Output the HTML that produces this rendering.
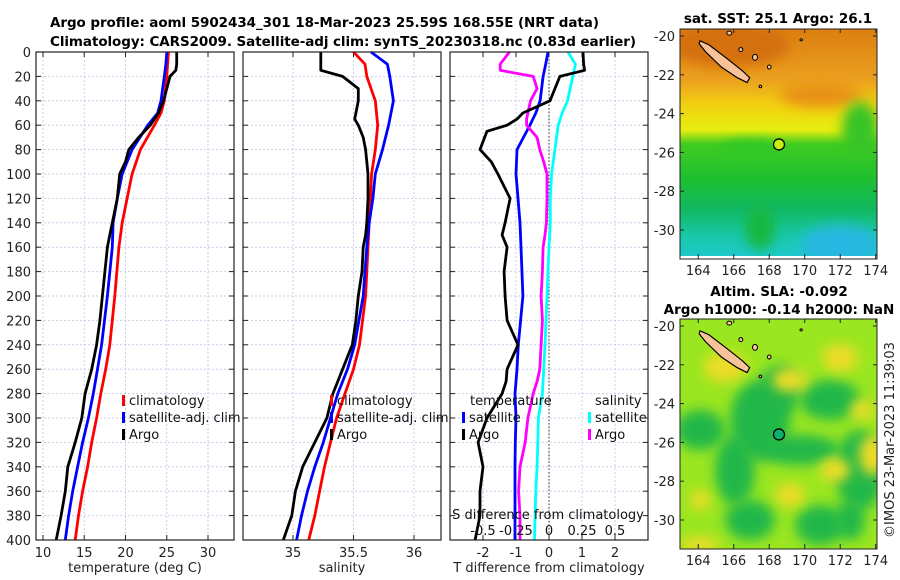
<!DOCTYPE html>
<html><head><meta charset="utf-8"><style>
body{margin:0;background:#fff}
svg{display:block;font-family:"DejaVu Sans","Liberation Sans",sans-serif}
</style></head><body>
<svg id="fig" width="900" height="580" viewBox="0 0 900 580" xmlns="http://www.w3.org/2000/svg">
<defs>
<filter id="blur6" x="-50%" y="-50%" width="200%" height="200%"><feGaussianBlur stdDeviation="6"/></filter>
<clipPath id="clipTop"><rect x="680" y="29" width="197" height="230"/></clipPath>
<clipPath id="clipBot"><rect x="680" y="319" width="197" height="230"/></clipPath>
<linearGradient id="sstGrad" x1="0" y1="0" x2="0" y2="1">
<stop offset="0" stop-color="#dc7e10"/><stop offset="0.22" stop-color="#eba020"/><stop offset="0.33" stop-color="#f2d010"/>
<stop offset="0.44" stop-color="#e6ee10"/><stop offset="0.5" stop-color="#40cc20"/><stop offset="0.65" stop-color="#1ec030"/>
<stop offset="0.78" stop-color="#12b860"/><stop offset="0.9" stop-color="#18c8a8"/><stop offset="1" stop-color="#20c8d0"/>
</linearGradient>
</defs>
<g id="titles" font-weight="bold" font-size="13.5" fill="#000">
<text x="50" y="27" textLength="549">Argo profile: aoml 5902434_301 18-Mar-2023 25.59S 168.55E (NRT data)</text>
<text x="50" y="46" textLength="586">Climatology: CARS2009. Satellite-adj clim: synTS_20230318.nc (0.83d earlier)</text>
</g>
<g id="panels"></g>
<g id="maps"></g>
</svg>
<script>
// ---------- DATA ----------
const depthTicks = [0,20,40,60,80,100,120,140,160,180,200,220,240,260,280,300,320,340,360,380,400];
const climDepths = [0,10,20,40,50,60,80,100,120,140,160,200,240,260,280,300,320,340,360,380,400];
const tempClim   = [25.2,25.1,25.0,24.7,24.3,23.5,21.8,20.8,20.2,19.6,19.2,18.7,18.1,17.6,17.0,16.5,15.9,15.4,14.8,14.3,13.9];
const tempSat    = [25.0,24.9,24.7,24.3,23.9,22.7,20.8,19.6,19.0,18.5,18.4,17.8,17.1,16.6,16.1,15.5,14.8,14.2,13.6,13.1,12.7];
const argoDepths = [0,10,15,20,30,40,50,55,60,65,70,80,90,100,120,140,150,160,180,200,220,240,260,270,280,300,320,340,360,380,400];
const tempArgo   = [26.2,26.2,26.1,25.4,25.0,24.6,24.0,23.5,23.0,22.3,21.6,20.4,20.0,19.3,19.0,18.4,18.1,17.8,17.5,17.2,16.9,16.5,15.9,15.5,15.1,14.7,13.9,13.0,12.7,12.2,11.6];
const salClim    = [35.50,35.595,35.61,35.68,35.69,35.70,35.68,35.65,35.64,35.63,35.62,35.60,35.55,35.50,35.43,35.36,35.31,35.26,35.22,35.18,35.13];
const salSat     = [35.645,35.78,35.80,35.83,35.81,35.79,35.74,35.68,35.66,35.63,35.61,35.58,35.51,35.45,35.37,35.31,35.25,35.18,35.12,35.07,35.03];
const salArgo    = [35.23,35.23,35.23,35.41,35.54,35.54,35.52,35.51,35.54,35.56,35.58,35.60,35.61,35.62,35.62,35.61,35.60,35.58,35.57,35.54,35.52,35.49,35.41,35.37,35.33,35.28,35.18,35.08,35.02,34.99,34.92];
const dTSat      = [-0.03,-0.1,-0.18,-0.27,-0.4,-0.58,-0.97,-1.0,-0.94,-0.88,-0.85,-0.79,-0.93,-0.97,-1.03,-1.0,-1.02,-1.03,-1.03,-1.03,-1.03];
const dTArgo     = [1.03,1.05,1.08,0.33,0.18,0.03,-0.79,-0.97,-1.27,-1.88,-1.95,-2.09,-1.75,-1.55,-1.18,-1.33,-1.42,-1.27,-1.36,-1.33,-1.27,-0.94,-1.27,-1.3,-1.42,-1.88,-2.15,-2.0,-2.09,-2.09,-2.24];
const dSSat      = [0.144,0.2,0.18,0.14,0.1,0.07,0.045,0.02,0.01,0.01,0.0,-0.015,-0.03,-0.04,-0.05,-0.08,-0.085,-0.09,-0.1,-0.105,-0.11];
const dSArgo     = [-0.30,-0.37,-0.37,-0.12,-0.09,-0.14,-0.16,-0.17,-0.17,-0.13,-0.09,-0.07,-0.04,-0.015,-0.015,-0.02,-0.03,-0.045,-0.05,-0.06,-0.05,-0.06,-0.07,-0.09,-0.12,-0.16,-0.18,-0.22,-0.23,-0.22,-0.22];
const tTicks = [10,15,20,25,30];
const sTicks = [35,35.5,36];
const dTicks = [-2,-1,0,1,2];
const sDiffTicks = [-0.5,-0.25,0,0.25,0.5];
const sDiffTickLabels = ["-0.5","-0.25","0","0.25","0.5"];
const lonTicks = [164,166,168,170,172,174];
const latTicks = [-20,-22,-24,-26,-28,-30];
const argoLon = 168.55, argoLat = -25.59;

// ---------- helpers ----------
const NS = "http://www.w3.org/2000/svg";
function mk(tag, attrs, parent){const e=document.createElementNS(NS,tag);for(const k in attrs)e.setAttribute(k,attrs[k]);if(parent)parent.appendChild(e);return e;}
const TOP=52, BOT=540;
const yD = d => TOP + d*(BOT-TOP)/400;
function lin(d0,d1,r0,r1){return v=>r0+(v-d0)*(r1-r0)/(d1-d0);}
const panelsG = document.getElementById('panels');

function panel(x0,x1,scale,ticks,labels,xTitle,name,showY){
  const g = mk('g',{},panelsG);
  
  
  ticks.forEach(t=>{const x=scale(t); const l=mk('line',{x1:x,x2:x,y1:TOP,y2:BOT,stroke:'#c9cde8','stroke-width':1,'stroke-dasharray':'2,2'},g);  });
  depthTicks.forEach(d=>{const y=yD(d); const l=mk('line',{x1:x0,x2:x1,y1:y,y2:y,stroke:'#c9cde8','stroke-width':1,'stroke-dasharray':'2,2'},g);  
    mk('line',{x1:x0,x2:x0+5,y1:y,y2:y,stroke:'#222'},g); mk('line',{x1:x1-5,x2:x1,y1:y,y2:y,stroke:'#222'},g);
    if(showY){const t=mk('text',{x:x0-5,y:y+5,'text-anchor':'end','font-size':13,fill:'#222'},g); t.textContent=d;  }
  });
  ticks.forEach((t,i)=>{const x=scale(t); mk('line',{x1:x,x2:x,y1:BOT,y2:BOT-5,stroke:'#222'},g); mk('line',{x1:x,x2:x,y1:TOP,y2:TOP+5,stroke:'#222'},g);
    const tx=mk('text',{x:x,y:BOT+17,'text-anchor':'middle','font-size':13,fill:'#222'},g); tx.textContent=labels[i];  });
  const tt=mk('text',{x:(x0+x1)/2,y:572,'text-anchor':'middle','font-size':13,fill:'#222'},g); tt.textContent=xTitle;
   
  return g;
}
function frame(g,x0,x1){const r=mk('rect',{x:x0,y:TOP,width:x1-x0,height:BOT-TOP,fill:'none',stroke:'#222','stroke-width':1.2},g);  }
function series(g,depths,vals,scale,color,name){
  const pts = vals.map((v,i)=>scale(v).toFixed(1)+','+yD(depths[i]).toFixed(1)).join(' ');
  const p=mk('polyline',{points:pts,fill:'none',stroke:color,'stroke-width':2.8,'stroke-linejoin':'round'},g);
  
  
}
function legendEntry(g,x,y,color,label){
  const e=mk('g',{},g);
  
  
  mk('rect',{x:x,y:y-10,width:3,height:11,fill:color},e);
  const t=mk('text',{x:x+7,y:y,'font-size':13,fill:'#111'},e); t.textContent=label;
}

const xT = lin(10,30,43,208);
const g1 = panel(36,234,xT,tTicks,tTicks.map(String),'temperature (deg C)','temperature-panel',true);
series(g1,climDepths,tempClim,xT,'#ff0000','temp-climatology-line');
series(g1,climDepths,tempSat,xT,'#0000ff','temp-satellite-line');
series(g1,argoDepths,tempArgo,xT,'#000000','temp-argo-line');
frame(g1,36,234);
legendEntry(g1,122,405,'#ff0000','climatology');
legendEntry(g1,122,422,'#0000ff','satellite-adj. clim');
legendEntry(g1,122,439,'#000000','Argo');

const xS = lin(35,36,293,414);
const g2 = panel(243,441,xS,sTicks,['35','35.5','36'],'salinity','salinity-panel',false);
series(g2,climDepths,salClim,xS,'#ff0000','sal-climatology-line');
series(g2,climDepths,salSat,xS,'#0000ff','sal-satellite-line');
series(g2,argoDepths,salArgo,xS,'#000000','sal-argo-line');
frame(g2,243,441);
legendEntry(g2,330,405,'#ff0000','climatology');
legendEntry(g2,330,422,'#0000ff','satellite-adj. clim');
legendEntry(g2,330,439,'#000000','Argo');

const xDT = lin(0,1,549,582);
const xDS = lin(0,0.25,549,582);
const g3 = panel(450,648,xDT,dTicks,dTicks.map(String),'T difference from climatology','difference-panel',false);
mk('line',{x1:xDT(0),x2:xDT(0),y1:TOP,y2:BOT,stroke:'#555','stroke-width':1.2,'stroke-dasharray':'1.5,2'},g3);
series(g3,climDepths,dTSat,xDT,'#0000ff','dT-satellite-line');
series(g3,climDepths,dSSat,xDS,'#00ffff','dS-satellite-line');
series(g3,argoDepths,dSArgo,xDS,'#ff00ff','dS-argo-line');
series(g3,argoDepths,dTArgo,xDT,'#000000','dT-argo-line');
frame(g3,450,648);
{const t=mk('text',{x:470,y:405,'font-size':13,fill:'#111'},g3);t.textContent='temperature';}
{const t=mk('text',{x:595,y:405,'font-size':13,fill:'#111'},g3);t.textContent='salinity';}
legendEntry(g3,462,422,'#0000ff','satellite');
legendEntry(g3,462,439,'#000000','Argo');
legendEntry(g3,588,422,'#00ffff','satellite');
legendEntry(g3,588,439,'#ff00ff','Argo');
{const t=mk('text',{x:548,y:519,'text-anchor':'middle','font-size':13,fill:'#111'},g3);t.textContent='S difference from climatology';}
sDiffTicks.forEach((v,i)=>{const t=mk('text',{x:xDS(v),y:535,'text-anchor':'middle','font-size':13,fill:'#111'},g3);t.textContent=sDiffTickLabels[i];
  
  });

// ---------- maps ----------
const mapsG = document.getElementById('maps');
const mx = lin(163,174,680.5,875.7);
function mapAxes(g,top){
  const my = lin(-20,-30,top+7,top+201);
  lonTicks.forEach(l=>{const x=mx(l);mk('line',{x1:x,x2:x,y1:top+230,y2:top+225,stroke:'#222'},g);mk('line',{x1:x,x2:x,y1:top,y2:top+4,stroke:'#222'},g);
    const t=mk('text',{x:x,y:top+246,'text-anchor':'middle','font-size':13,fill:'#222'},g);t.textContent=l;});
  latTicks.forEach(l=>{const y=my(l);mk('line',{x1:680,x2:684,y1:y,y2:y,stroke:'#222'},g);mk('line',{x1:873,x2:877,y1:y,y2:y,stroke:'#222'},g);
    const t=mk('text',{x:675,y:y+5,'text-anchor':'end','font-size':13,fill:'#222'},g);t.textContent=l;});
  mk('rect',{x:680,y:top,width:197,height:230,fill:'none',stroke:'#222','stroke-width':1},g);
  const isl=mk('path',{d:`M${mx(164.1)},${my(-20.25)} L${mx(164.6)},${my(-20.45)} L${mx(165.6)},${my(-21.15)} L${mx(166.5)},${my(-21.8)} L${mx(166.9)},${my(-22.15)} L${mx(166.75)},${my(-22.4)} L${mx(166.2)},${my(-22.15)} L${mx(165.3)},${my(-21.6)} L${mx(164.4)},${my(-20.8)} L${mx(164.05)},${my(-20.4)} Z`,fill:'#f9c39a',stroke:'#000','stroke-width':1.2},g);
  
  [[165.75,-19.85,2.5,2],[167.2,-21.1,2.5,3],[168.0,-21.6,1.8,2],[166.4,-20.7,2,2],[167.5,-22.6,1.3,1.3],[169.8,-20.2,1.2,1]].forEach(p=>mk('ellipse',{cx:mx(p[0]),cy:my(p[1]),rx:p[2],ry:p[3],fill:'#f9c39a',stroke:'#000','stroke-width':1},g));
  const c=mk('circle',{cx:mx(argoLon),cy:my(argoLat),r:5.5,fill:'none',stroke:'#000','stroke-width':1.3},g);
  
}
const gm1=mk('g',{},mapsG);


const bg1=mk('g',{'clip-path':'url(#clipTop)'},gm1);
mk('rect',{x:680,y:29,width:197,height:230,fill:'url(#sstGrad)'},bg1);
mk('ellipse',{cx:730,cy:45,rx:60,ry:22,fill:'#d47010',filter:'url(#blur6)'},bg1);
mk('ellipse',{cx:820,cy:95,rx:40,ry:12,fill:'#e89018',filter:'url(#blur6)'},bg1);
mk('ellipse',{cx:860,cy:130,rx:18,ry:28,fill:'#38c428',filter:'url(#blur6)'},bg1);
mk('ellipse',{cx:750,cy:150,rx:30,ry:10,fill:'#30c828',filter:'url(#blur6)'},bg1);
mk('ellipse',{cx:840,cy:245,rx:40,ry:20,fill:'#28b8e0',filter:'url(#blur6)'},bg1);
mk('ellipse',{cx:760,cy:228,rx:15,ry:22,fill:'#18b840',filter:'url(#blur6)'},bg1);
mk('rect',{x:680,y:256,width:197,height:3,fill:'#fff'},bg1);
mk('circle',{cx:mx(argoLon),cy:lin(-20,-30,36,230)(argoLat),r:5,fill:'#c8ee10'},gm1);
mapAxes(gm1,29);
{const t=mk('text',{x:778,y:23,'text-anchor':'middle','font-size':13.5,'font-weight':'bold'},gm1);t.textContent='sat. SST: 25.1 Argo: 26.1';}

const gm2=mk('g',{},mapsG);


const bg2=mk('g',{'clip-path':'url(#clipBot)'},gm2);
mk('rect',{x:680,y:319,width:197,height:230,fill:'#9ae620'},bg2);
[[700,430,25,20],[760,420,30,40],[735,470,20,35],[780,390,20,25],[830,400,30,20],[800,450,40,15],[860,470,25,40],[750,520,25,20],[820,525,25,20],[850,520,15,20]].forEach(e=>mk('ellipse',{cx:e[0],cy:e[1],rx:e[2],ry:e[3],fill:'#20b848',filter:'url(#blur6)'},bg2));
[[725,367,22,15],[790,380,18,12],[840,358,18,14],[862,410,12,10],[873,455,14,20],[790,495,15,12],[835,470,15,12],[700,500,10,10],[700,545,20,8]].forEach(e=>mk('ellipse',{cx:e[0],cy:e[1],rx:e[2],ry:e[3],fill:'#ecdc28',filter:'url(#blur6)'},bg2));
mk('circle',{cx:mx(argoLon),cy:lin(-20,-30,326,520)(argoLat),r:5,fill:'#10b070'},gm2);
mapAxes(gm2,319);
{const t=mk('text',{x:779,y:296,'text-anchor':'middle','font-size':13.5,'font-weight':'bold'},gm2);t.textContent='Altim. SLA: -0.092';}
{const t=mk('text',{x:779,y:314,'text-anchor':'middle','font-size':13.5,'font-weight':'bold'},gm2);t.textContent='Argo h1000: -0.14 h2000: NaN';}
{const t=mk('text',{x:0,y:0,'text-anchor':'middle','font-size':13,fill:'#222',transform:'translate(894,440) rotate(-90)'},mapsG);t.textContent='©IMOS 23-Mar-2023 11:39:03';}
</script>
</body></html>
